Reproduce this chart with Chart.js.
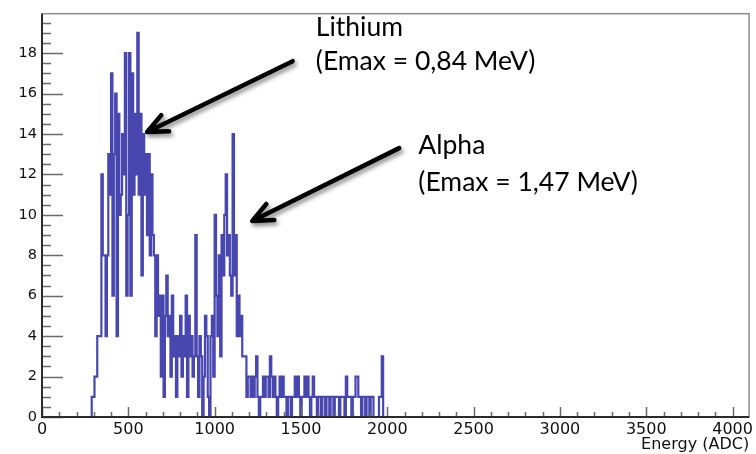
<!DOCTYPE html>
<html>
<head>
<meta charset="utf-8">
<script src="https://cdn.jsdelivr.net/npm/chart.js@4.4.1/dist/chart.umd.min.js"></script>
<style>
  html, body { margin: 0; padding: 0; background: #ffffff; }
  #wrap { position: relative; width: 756px; height: 454px; }
</style>
</head>
<body>
<div id="wrap"><canvas id="spectrum"></canvas></div>
<script>
// Histogram binning (ADC channels)
const binWidth = 8;
const firstBinStart = 288;
// Counts per bin, starting at firstBinStart
const counts = [
  1,1,2,2,4,4,4,12,8,8,
  4,8,13,11,17,6,13,16,4,15,
  10,11,14,12,18,6,10,18,6,17,
  11,15,12,19,11,15,7,14,11,13,
  9,13,8,12,9,8,4,8,5,6,
  2,6,1,5,7,4,5,2,6,3,
  4,1,4,3,5,2,4,3,6,1,
  5,3,4,2,3,9,3,1,4,3,
  0,2,5,4,1,0,4,5,2,10,
  6,4,8,3,9,7,10,12,8,9,
  7,6,14,7,9,4,6,4,5,3,
  3,3,1,2,2,1,2,1,2,3,
  1,0,1,1,2,1,2,2,1,3,
  2,1,2,1,0,1,2,1,2,1,
  1,0,1,1,0,1,1,2,1,2,
  1,0,1,1,2,1,2,1,0,1,
  2,1,1,0,1,1,0,1,1,0,
  1,1,0,1,1,0,1,1,1,0,
  1,1,1,0,2,1,1,1,0,1,
  1,2,2,1,1,0,1,1,0,1,
  1,0,1,1,0,0,0,0,1,1,3
];
const xRange = [0, 4096];
const yRange = [0, 19.95];
const xTickValues = [0, 500, 1000, 1500, 2000, 2500, 3000, 3500, 4000];
const yTickValues = [0, 2, 4, 6, 8, 10, 12, 14, 16, 18];
const xMinorStep = 100;
const yMinorStep = 0.5;

// Callouts, anchored in data coordinates (ADC, counts)
const callouts = [
  { lines: ['Lithium', '(Emax = 0,84 MeV)'], at: [1586, 18.85], lineGap: 34, tail: [1452, 17.6], tip: [609, 14.1] },
  { lines: ['Alpha', '(Emax = 1,47 MeV)'], at: [2180, 13.0], lineGap: 37, tail: [2069, 13.3], tip: [1218, 9.7] }
];

// Step points: left bin edges, plus closing edges at zero
const points = [{ x: xRange[0], y: 0 }];
counts.forEach((c, i) => points.push({ x: firstBinStart + i * binWidth, y: c }));
points.push({ x: firstBinStart + counts.length * binWidth, y: 0 });
points.push({ x: xRange[1], y: 0 });

const isMajor = (v, majors) => majors.some(m => Math.abs(m - v) < 1e-9);

// ROOT-style frame with inward ticks
const rootFrame = {
  id: 'rootFrame',
  afterDatasetsDraw(chart) {
    const { ctx, chartArea: a, scales: { x, y } } = chart;
    ctx.save();
    ctx.strokeStyle = '#8c8c8c';
    ctx.lineWidth = 1.5;
    ctx.strokeRect(a.left, a.top, a.right - a.left, a.bottom - a.top);

    ctx.strokeStyle = '#6a6a6a';
    ctx.lineWidth = 1.5;
    ctx.beginPath();
    for (let v = xRange[0]; v <= xRange[1]; v += xMinorStep) {
      const px = Math.round(x.getPixelForValue(v)) + 0.5;
      const len = isMajor(v, xTickValues) ? 10 : 5;
      ctx.moveTo(px, a.bottom);
      ctx.lineTo(px, a.bottom - len);
    }
    for (let v = yRange[0]; v <= yRange[1]; v += yMinorStep) {
      const py = Math.round(y.getPixelForValue(v)) + 0.5;
      const len = isMajor(v, yTickValues) ? 21 : 9;
      ctx.moveTo(a.left, py);
      ctx.lineTo(a.left + len, py);
    }
    ctx.stroke();

    ctx.strokeStyle = '#2b2b2b';
    ctx.lineWidth = 2;
    ctx.beginPath();
    ctx.moveTo(a.left, a.top);
    ctx.lineTo(a.left, a.bottom);
    ctx.lineTo(a.right, a.bottom);
    ctx.stroke();
    ctx.restore();
  }
};

// Text callouts with shadowed arrows
const calloutPlugin = {
  id: 'callouts',
  afterDraw(chart) {
    const { ctx, scales: { x, y } } = chart;
    ctx.save();
    callouts.forEach(c => {
      const tx = x.getPixelForValue(c.tail[0]), ty = y.getPixelForValue(c.tail[1]);
      const hx = x.getPixelForValue(c.tip[0]), hy = y.getPixelForValue(c.tip[1]);
      const ang = Math.atan2(ty - hy, tx - hx);
      const arm = 22, spread = 0.42;
      ctx.shadowColor = 'rgba(0,0,0,0.45)';
      ctx.shadowBlur = 4;
      ctx.shadowOffsetX = 2;
      ctx.shadowOffsetY = 3;
      ctx.strokeStyle = '#000';
      ctx.lineWidth = 4.5;
      ctx.lineCap = 'round';
      ctx.lineJoin = 'round';
      ctx.beginPath();
      ctx.moveTo(tx, ty);
      ctx.lineTo(hx, hy);
      ctx.moveTo(hx + arm * Math.cos(ang - spread), hy + arm * Math.sin(ang - spread));
      ctx.lineTo(hx, hy);
      ctx.lineTo(hx + arm * Math.cos(ang + spread), hy + arm * Math.sin(ang + spread));
      ctx.stroke();

      ctx.shadowColor = 'transparent';
      ctx.fillStyle = '#000';
      ctx.font = '26.5px Lato';
      ctx.textBaseline = 'alphabetic';
      ctx.textAlign = 'left';
      const lx = x.getPixelForValue(c.at[0]);
      const ly = y.getPixelForValue(c.at[1]);
      c.lines.forEach((t, i) => ctx.fillText(t, lx, ly + i * c.lineGap));
    });
    ctx.restore();
  }
};

new Chart(document.getElementById('spectrum'), {
  type: 'line',
  data: {
    datasets: [{
      data: points,
      stepped: true,
      borderColor: 'rgba(30,30,158,0.82)',
      borderWidth: 2.2,
      pointRadius: 0,
      fill: false,
      tension: 0
    }]
  },
  options: {
    responsive: true,
    maintainAspectRatio: false,
    animation: false,
    devicePixelRatio: 1,
    layout: { padding: { top: 7, right: 3, left: 0, bottom: 0 } },
    plugins: { legend: { display: false }, tooltip: { enabled: false } },
    scales: {
      x: {
        type: 'linear',
        min: xRange[0],
        max: xRange[1],
        grid: { display: false, drawTicks: false },
        border: { display: false },
        afterBuildTicks(scale) { scale.ticks = xTickValues.map(v => ({ value: v })); },
        ticks: {
          autoSkip: false,
          maxRotation: 0,
          padding: 3,
          color: '#111',
          font: { family: 'DejaVu Sans', size: 16 },
          callback: v => String(v)
        },
        title: {
          display: true,
          text: 'Energy (ADC)',
          align: 'end',
          color: '#111',
          font: { family: 'DejaVu Sans', size: 16 },
          padding: { top: 0, bottom: 0 }
        },
        afterFit(scale) { scale.height = 37; }
      },
      y: {
        type: 'linear',
        min: yRange[0],
        max: yRange[1],
        grid: { display: false, drawTicks: false },
        border: { display: false },
        afterBuildTicks(scale) { scale.ticks = yTickValues.map(v => ({ value: v })); },
        ticks: {
          padding: 5,
          color: '#111',
          font: { family: 'DejaVu Sans', size: 14.5 },
          callback: v => String(v)
        },
        afterFit(scale) { scale.width = 42; }
      }
    }
  },
  plugins: [rootFrame, calloutPlugin]
});
</script>
</body>
</html>
